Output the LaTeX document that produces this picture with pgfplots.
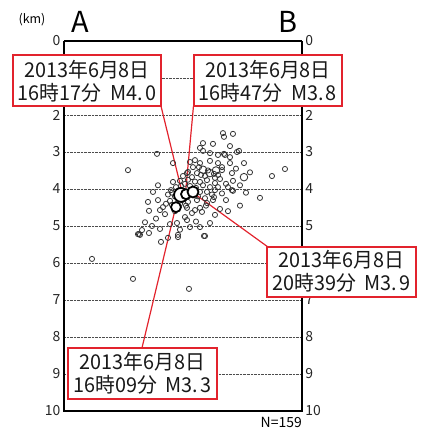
\documentclass[border=0pt]{standalone}
\usepackage{pgfplots}
\pgfplotsset{compat=1.18}
\usepackage{fontspec}
\setmainfont{Noto Sans CJK JP}
\newfontfamily\jpc[FakeStretch=0.97]{Noto Sans CJK JP}
\definecolor{anred}{RGB}{226,35,45}
\pgfplotsset{myax/.style={scale only axis, width=238bp, height=370bp,
  xmin=64, xmax=302, ymin=0, ymax=10, y dir=reverse, clip=false,
  xtick=\empty, ytick={0,...,10}, major tick length=0,
  axis line style={draw=none},
  /pgf/number format/assume math mode=true,
  yticklabel style={font=\fontsize{14}{14}\selectfont, text=black!85}}}
\tikzset{boxtxt/.style={align=center, inner sep=0pt, text=black!90, font={\jpc\fontsize{20.5}{23}\selectfont}}}
\begin{document}
\begin{tikzpicture}
% right tick labels
\begin{axis}[myax, yticklabel pos=right, hide x axis,
  yticklabels={0,,2,3,4,5,,7,8,9,10}]
\addplot[draw=none, forget plot] coordinates {(100,5)};
\end{axis}
\begin{axis}[myax, ymajorgrids, yticklabels={0,,2,3,4,5,6,7,8,9,10},
  major grid style={densely dotted, line width=0.9pt, black!70}]
\addplot[only marks, mark=o, mark size=2.6pt, mark options={draw=black!80, line width=0.8pt}] coordinates {
(223,2.49)(224,2.59)(233,2.51)(203,2.76)(213,2.78)(230,2.84)(157,3.05)(237,3.00)(239,2.97)(200,2.89)
(203,2.97)(210,3.03)(218,3.08)(224,3.05)(230,3.14)(225,3.08)(173,3.30)(128,3.49)(285,3.46)(272,3.65)
(190,3.27)(195,3.22)(200,3.30)(193,3.41)(199,3.41)(210,3.24)(218,3.30)(222,3.41)(222,3.49)(188,3.54)
(197,3.57)(214,3.59)(232,3.57)(187,3.57)(192,3.68)(233,3.78)(173,3.81)(180,3.78)(200,3.81)(207,3.76)
(215,3.84)(218,3.95)(228,3.95)(233,4.05)(153,4.08)(171,4.03)(176,3.95)(200,4.08)(207,4.08)(215,4.03)
(232,4.03)(214,4.22)(260,4.24)(163,4.49)(172,4.43)(149,4.59)(160,4.57)(165,4.68)(187,4.51)(195,4.57)
(200,4.51)(207,4.38)(220,4.54)(185,4.76)(192,4.65)(142,5.11)(152,5.00)(160,5.08)(177,4.92)(187,4.84)
(190,5.03)(200,5.03)(205,5.27)(178,5.24)(168,5.32)(140,5.24)(139,5.22)(149,5.19)(161,5.43)(170,4.95)
(178,5.30)(204,5.27)(210,4.92)(133,6.43)(189,6.70)(92,5.89)(138,5.22)
(185,3.86)(190,3.92)(196,3.97)(203,3.90)(182,4.30)(188,4.35)(197,4.30)(205,4.25)(175,4.20)(168,4.15)
(178,4.05)(193,4.00)(210,3.95)(212,4.15)(186,4.45)(175,4.60)(202,4.62)(215,3.70)(205,3.65)(183,3.65)
(226,3.86)(220,3.73)(240,3.90)(180,4.40)(170,4.32)(198,4.20)(206,4.45)(213,4.30)(195,3.80)(188,3.75)
(181,3.92)(172,4.10)(166,4.40)(158,4.30)(222,4.12)(226,4.30)(218,3.62)(208,3.50)(201,3.62)(230,3.30)
(236,3.45)(244,3.30)(250,3.55)(246,4.10)(240,4.45)(158,3.90)(148,4.35)(156,4.80)(145,4.90)(196,4.88)
(180,5.10)(215,4.70)(228,4.60)
};
\addplot[only marks, mark=o, mark size=3.8pt, mark options={draw=black!80, line width=0.85pt}] coordinates {
(244,3.68)(210,3.57)(216,3.50)(203,3.48)};
% frame
\draw[line width=2pt] (axis cs:64,0) -- (axis cs:64,10) -- (axis cs:302,10) -- (axis cs:302,0);
\draw[line width=1.3pt] (axis cs:64,0) -- (axis cs:302,0);
% leader lines
\draw[anred, line width=1.2pt] (axis cs:161,1.757) -- (axis cs:181,3.97);
\draw[anred, line width=1.2pt] (axis cs:193.5,1.757) -- (axis cs:186,3.97);
\draw[anred, line width=1.2pt] (axis cs:195,4.14) -- (axis cs:268,5.568);
\draw[anred, line width=1.2pt] (axis cs:142,8.297) -- (axis cs:175,4.57);
% main shocks
\addplot[only marks, mark=*, mark size=5pt, mark options={draw=black, fill=white, line width=1.8pt}] coordinates {(176,4.49)};
\addplot[only marks, mark=*, mark size=7pt, mark options={draw=black, fill=white, line width=1.8pt}] coordinates {(181,4.16)};
\addplot[only marks, mark=*, mark size=5pt, mark options={draw=black, fill=white, line width=1.8pt}] coordinates {(186,4.14)};
\addplot[only marks, mark=*, mark size=5.5pt, mark options={draw=black, fill=white, line width=1.8pt}] coordinates {(193,4.08)};
% boxes
\draw[anred, line width=1.5pt, fill=white] (axis cs:13,0.378) rectangle (axis cs:161,1.757);
\draw[anred, line width=1.5pt, fill=white] (axis cs:194,0.378) rectangle (axis cs:342,1.757);
\draw[anred, line width=1.5pt, fill=white] (axis cs:267,5.568) rectangle (axis cs:416,6.919);
\draw[anred, line width=1.5pt, fill=white] (axis cs:68,8.297) rectangle (axis cs:217,9.676);
\node[boxtxt] at (axis cs:87,1.08) {2013年6月8日\\16時17分\ \ M4.{\kern2pt}0};
\node[boxtxt] at (axis cs:268,1.08) {2013年6月8日\\16時47分\ \ M3.{\kern2pt}8};
\node[boxtxt] at (axis cs:341.5,6.23) {2013年6月8日\\20時39分\ \ M3.{\kern2pt}9};
\node[boxtxt] at (axis cs:142.5,8.97) {2013年6月8日\\16時09分\ \ M3.{\kern2pt}3};
% labels
\node[font=\fontsize{29}{29}\selectfont] at (axis cs:80,-0.514) {A};
\node[font=\fontsize{29}{29}\selectfont] at (axis cs:288,-0.514) {B};
\node[font=\fontsize{12.5}{12.5}\selectfont] at (axis cs:32,-0.568) {(km)};
\node[font=\fontsize{14}{14}\selectfont, anchor=east, inner sep=0pt] at (axis cs:302,10.32) {N=159};
\path (axis cs:0,-1.108) rectangle (axis cs:421,10.459);
\end{axis}
\end{tikzpicture}
\end{document}
